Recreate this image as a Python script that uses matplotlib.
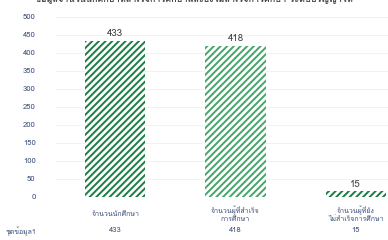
import matplotlib
matplotlib.use("Agg")
import matplotlib.pyplot as plt
from matplotlib import font_manager
from matplotlib.ft2font import FT2Font

# data
categories = ["จำนวนนักศึกษา", "จำนวนผู้ที่สำเร็จ\nการศึกษา", "จำนวนผู้ที่ยัง\nไม่สำเร็จการศึกษา"]
values = [433, 418, 15]
series_name = "ชุดข้อมูล1"
yticks = [0, 50, 100, 150, 200, 250, 300, 350, 400, 450, 500]
title = "ข้อมูลจำนวนนักศึกษาที่สำเร็จการศึกษาและยังไม่สำเร็จการศึกษา ระดับปริญญาโท"

# find a font that can draw Thai
thai = None
for f in font_manager.fontManager.ttflist:
    try:
        if 0x0E08 in FT2Font(f.fname).get_charmap():
            thai = f.name
            break
    except Exception:
        pass
fams = [thai, "DejaVu Sans"] if thai else ["DejaVu Sans"]
plt.rcParams["font.family"] = fams
plt.rcParams["hatch.linewidth"] = 1.4

fig = plt.figure(figsize=(3.88, 2.4), dpi=100)
ax = fig.add_axes([0.142, 0.18, 0.93, 0.75])

colors = ["#1b7d45", "#45a56a", "#1b7d45"]
x = range(len(values))
bars = ax.bar(x, values, width=0.5, color="white", edgecolor="none")
for b, c in zip(bars, colors):
    b.set_hatch("/////")
    b._hatch_color = matplotlib.colors.to_rgba(c)

for i, v in enumerate(values):
    ax.text(i, v + 8, str(v), ha="center", va="bottom", fontsize=7, color="#404040")

ax.set_ylim(0, 500)
ax.set_xlim(-0.5, 2.5)
ax.set_yticks(yticks)
ax.set_yticklabels([str(t) for t in yticks], fontsize=5.5, color="#3c4f7a")
ax.tick_params(axis="y", length=0, pad=14)
ax.set_xticks([])
ax.grid(axis="y", color="#f0f0f0", linewidth=0.6)
ax.set_axisbelow(True)
for s in ax.spines.values():
    s.set_visible(False)

# category labels and data table row
xt = ax.get_xaxis_transform()
for i, c in enumerate(categories):
    ax.text(i, -0.097, c, ha="center", va="center", fontsize=5, color="#3c4f7a",
            transform=xt, linespacing=1.2)
    ax.text(i, -0.19, str(values[i]), ha="center", va="center", fontsize=5.5,
            color="#3c4f7a", transform=xt)
fig.text(0.015, 0.0375, series_name, fontsize=5, color="#3c4f7a", va="center")

fig.text(0.5, 1.01, title, ha="center", va="center", fontsize=6.5,
         fontweight="bold", color="#444444")

fig.savefig("out.png", dpi=100)
